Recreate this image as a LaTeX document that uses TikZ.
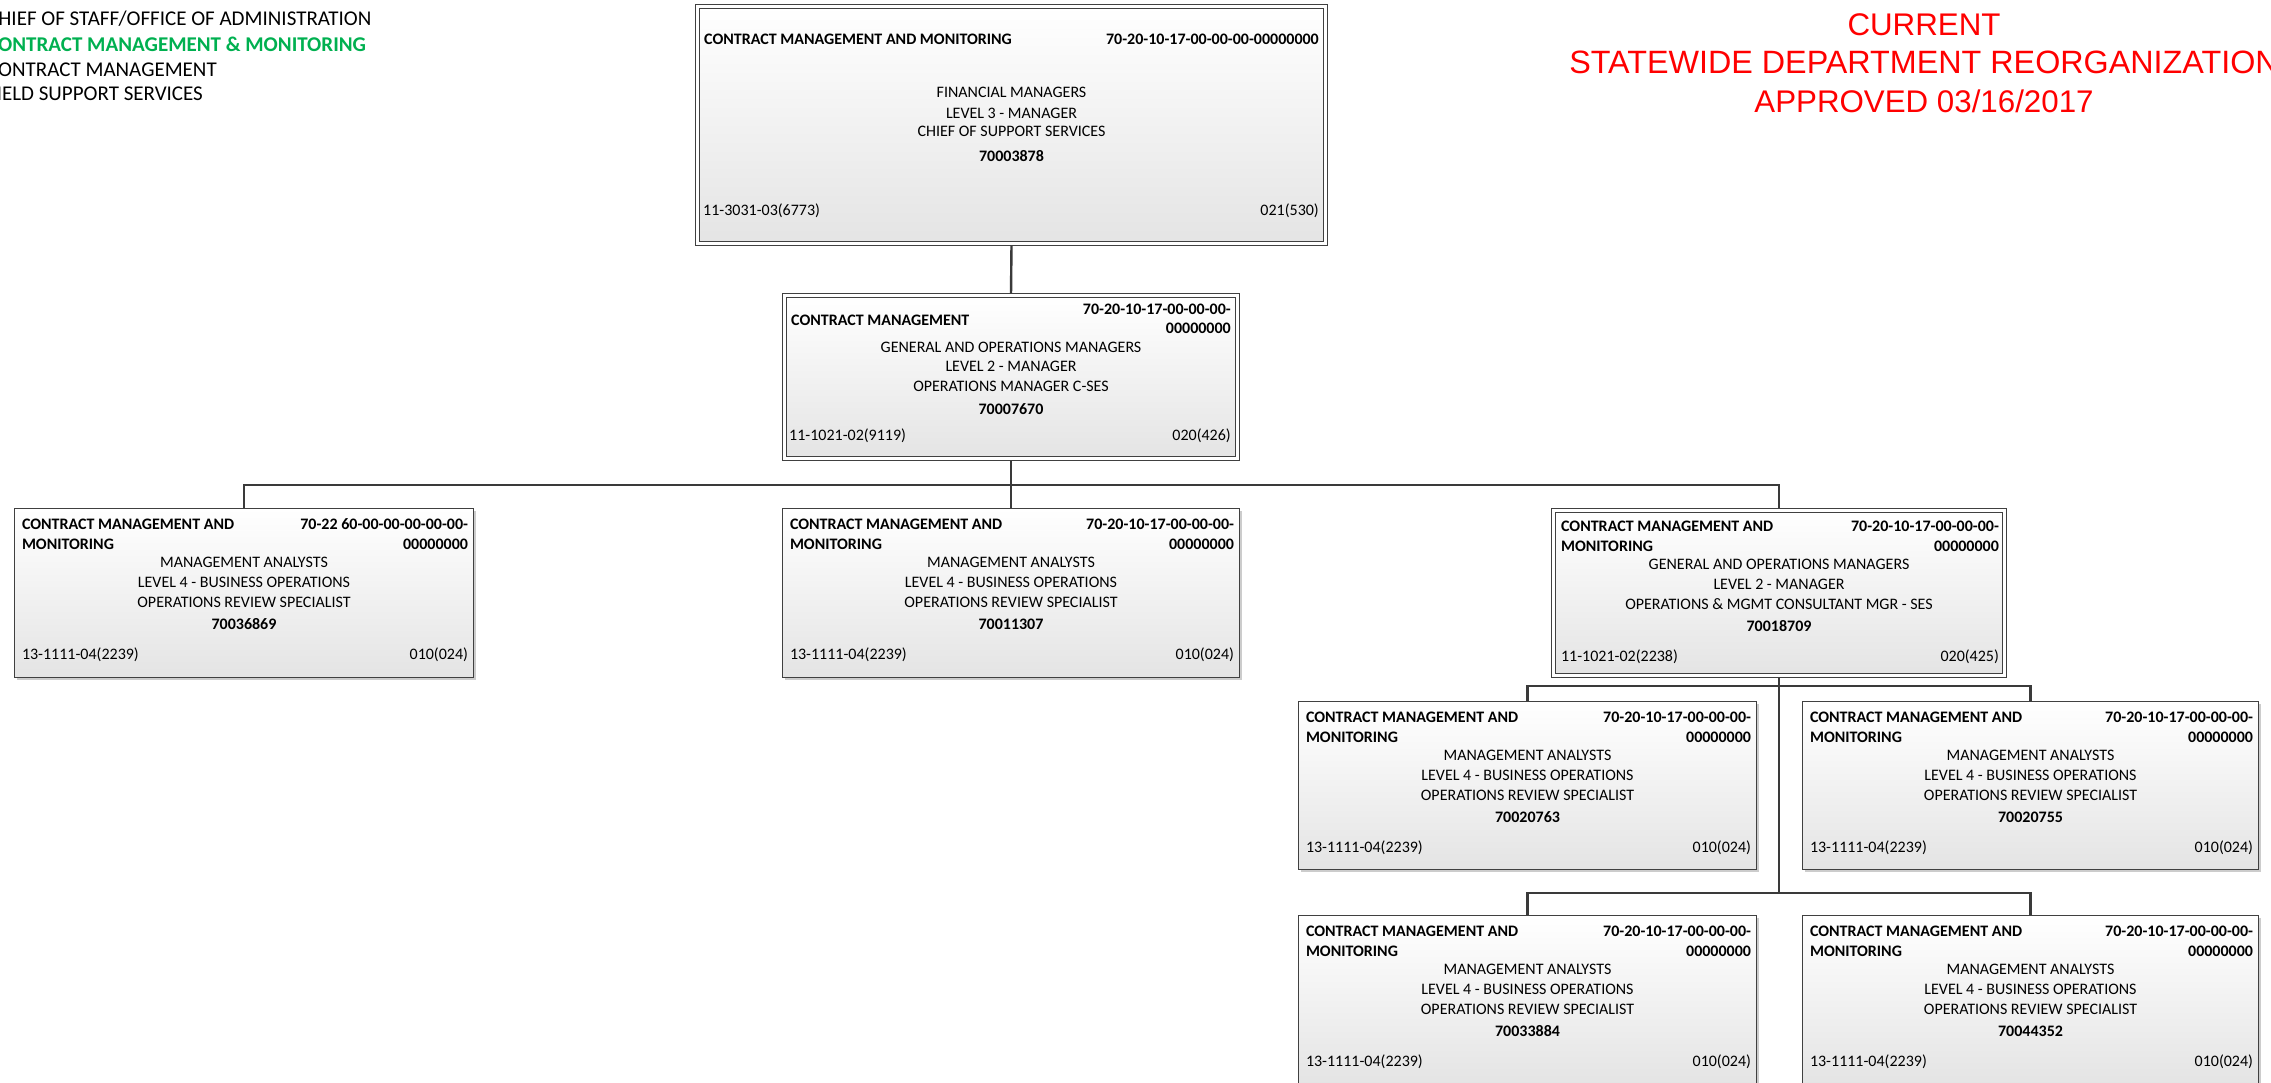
\documentclass[tikz,border=0pt]{standalone}
\usepackage{fontspec}
\setmainfont{Carlito}
\newfontfamily\arialfont{Liberation Sans}
\usetikzlibrary{shadows,calc}
\definecolor{bordergray}{HTML}{404040}
\definecolor{linegray}{HTML}{3A3A3A}
\definecolor{legendgreen}{HTML}{00B050}
\definecolor{titlered}{HTML}{FF0000}
\definecolor{fillbottom}{HTML}{E4E4E4}
\pgfdeclarelayer{bg}
\pgfsetlayers{bg,main}
\tikzset{
  boxshadow/.style={drop shadow={shadow xshift=2.5pt, shadow yshift=-2.5pt, fill=black, opacity=0.2}},
  orgsingle/.style={draw=bordergray, line width=1.4pt, top color=white, bottom color=fillbottom, inner sep=0pt, boxshadow},
  orgdouble/.style={draw=bordergray, line width=1.2pt, double=white, double distance=2.6pt, top color=white, bottom color=fillbottom, inner sep=0pt, boxshadow},
  conn/.style={draw=linegray, line width=2.4pt},
  hdr/.style={font=\fontsize{16}{19}\selectfont\bfseries, inner sep=0pt},
  body/.style={font=\fontsize{16}{19}\selectfont, inner sep=0pt},
  legendtxt/.style={font=\fontsize{21}{25}\selectfont, inner sep=0pt, anchor=base west},
  redtitle/.style={font=\arialfont\fontsize{31.3}{38}\selectfont, text=titlered, inner sep=0pt, anchor=base},
}
% #1 name, #2 right line 1, #3-#5 centre lines, #6 id, #7 footer left, #8 footer right
\newcommand{\StdBox}[8]{%
  \node[hdr, anchor=base west] (#1-h1) at ([shift={(8,22)}]#1.north west) {CONTRACT MANAGEMENT AND};
  \node[hdr, anchor=base west] (#1-h2) at ([shift={(8,42)}]#1.north west) {MONITORING};
  \node[hdr, anchor=base east] (#1-r1) at ([shift={(-6,22)}]#1.north east) {#2};
  \node[hdr, anchor=base east] (#1-r2) at ([shift={(-6,42)}]#1.north east) {00000000};
  \node[body, anchor=base] (#1-c1) at ([shift={(0,60)}]#1.north) {#3};
  \node[body, anchor=base] (#1-c2) at ([shift={(0,80)}]#1.north) {#4};
  \node[body, anchor=base] (#1-c3) at ([shift={(0,100)}]#1.north) {#5};
  \node[hdr, anchor=base] (#1-id) at ([shift={(0,122)}]#1.north) {#6};
  \node[body, anchor=base west] (#1-fl) at ([shift={(8,152)}]#1.north west) {#7};
  \node[body, anchor=base east] (#1-fr) at ([shift={(-6,152)}]#1.north east) {#8};
}
\begin{document}
\begin{tikzpicture}[x=1pt, y=-1pt]
\useasboundingbox (0,0) rectangle (2271,1083);

% legend
\node[legendtxt] (lg1) at (-13,26) {CHIEF OF STAFF/OFFICE OF ADMINISTRATION};
\node[legendtxt, text=legendgreen, font=\fontsize{21}{25}\selectfont\bfseries] (lg2) at (-13,52) {CONTRACT MANAGEMENT \& MONITORING};
\node[legendtxt] (lg3) at (-13,77) {CONTRACT MANAGEMENT};
\node[legendtxt] (lg4) at (-13,101) {FIELD SUPPORT SERVICES};

% title
\node[redtitle] (t1) at (1924,35.7) {CURRENT};
\node[redtitle, font=\arialfont\fontsize{32.3}{38}\selectfont] (t2) at (1924,74) {STATEWIDE DEPARTMENT REORGANIZATION};
\node[redtitle] (t3) at (1924,112.7) {APPROVED 03/16/2017};

% boxes
\node[orgdouble, minimum width=628pt, minimum height=237pt] (T) at (1011.5,125) {};
\node[orgdouble, minimum width=453pt, minimum height=163pt] (M) at (1011,377) {};
\node[orgsingle, minimum width=459pt, minimum height=169pt] (A) at (244,593) {};
\node[orgsingle, minimum width=457pt, minimum height=169pt] (B) at (1011,593) {};
\node[orgdouble, minimum width=451pt, minimum height=165pt] (C) at (1779,593) {};
\node[orgsingle, minimum width=458pt, minimum height=168pt] (D) at (1527.5,785.5) {};
\node[orgsingle, minimum width=456pt, minimum height=168pt] (E) at (2030.5,785.5) {};
\node[orgsingle, minimum width=458pt, minimum height=169pt] (F) at (1527.5,1000) {};
\node[orgsingle, minimum width=456pt, minimum height=169pt] (G) at (2030.5,1000) {};

% top box text
\node[hdr, anchor=base west] (T-h) at (704,44.5) {CONTRACT MANAGEMENT AND MONITORING};
\node[hdr, anchor=base east] (T-r) at (1319,44.5) {70-20-10-17-00-00-00-00000000};
\node[body, anchor=base] (T-c1) at (1011.5,97.5) {FINANCIAL MANAGERS};
\node[body, anchor=base] (T-c2) at (1011.5,118.5) {LEVEL 3 - MANAGER};
\node[body, anchor=base] (T-c3) at (1011.5,136.5) {CHIEF OF SUPPORT SERVICES};
\node[hdr, anchor=base] (T-id) at (1011.5,161.5) {70003878};
\node[body, anchor=base west] (T-fl) at (703,215.5) {11-3031-03(6773)};
\node[body, anchor=base east] (T-fr) at (1319,215.5) {021(530)};

% second box text
\node[hdr, anchor=base west] (M-h) at (791,325.5) {CONTRACT MANAGEMENT};
\node[hdr, anchor=base east] (M-r1) at (1231,314.5) {70-20-10-17-00-00-00-};
\node[hdr, anchor=base east] (M-r2) at (1231,333.5) {00000000};
\node[body, anchor=base] (M-c1) at (1011,352.5) {GENERAL AND OPERATIONS MANAGERS};
\node[body, anchor=base] (M-c2) at (1011,371.5) {LEVEL 2 - MANAGER};
\node[body, anchor=base] (M-c3) at (1011,391.5) {OPERATIONS MANAGER C-SES};
\node[hdr, anchor=base] (M-id) at (1011,414.5) {70007670};
\node[body, anchor=base west] (M-fl) at (789,440.5) {11-1021-02(9119)};
\node[body, anchor=base east] (M-fr) at (1231,440.5) {020(426)};

\StdBox{A}{70-22 60-00-00-00-00-00-}{MANAGEMENT ANALYSTS}{LEVEL 4 - BUSINESS OPERATIONS}{OPERATIONS REVIEW SPECIALIST}{70036869}{13-1111-04(2239)}{010(024)}
\StdBox{B}{70-20-10-17-00-00-00-}{MANAGEMENT ANALYSTS}{LEVEL 4 - BUSINESS OPERATIONS}{OPERATIONS REVIEW SPECIALIST}{70011307}{13-1111-04(2239)}{010(024)}
\StdBox{C}{70-20-10-17-00-00-00-}{GENERAL AND OPERATIONS MANAGERS}{LEVEL 2 - MANAGER}{OPERATIONS \& MGMT CONSULTANT MGR - SES}{70018709}{11-1021-02(2238)}{020(425)}
\StdBox{D}{70-20-10-17-00-00-00-}{MANAGEMENT ANALYSTS}{LEVEL 4 - BUSINESS OPERATIONS}{OPERATIONS REVIEW SPECIALIST}{70020763}{13-1111-04(2239)}{010(024)}
\StdBox{E}{70-20-10-17-00-00-00-}{MANAGEMENT ANALYSTS}{LEVEL 4 - BUSINESS OPERATIONS}{OPERATIONS REVIEW SPECIALIST}{70020755}{13-1111-04(2239)}{010(024)}
\StdBox{F}{70-20-10-17-00-00-00-}{MANAGEMENT ANALYSTS}{LEVEL 4 - BUSINESS OPERATIONS}{OPERATIONS REVIEW SPECIALIST}{70033884}{13-1111-04(2239)}{010(024)}
\StdBox{G}{70-20-10-17-00-00-00-}{MANAGEMENT ANALYSTS}{LEVEL 4 - BUSINESS OPERATIONS}{OPERATIONS REVIEW SPECIALIST}{70044352}{13-1111-04(2239)}{010(024)}

% connectors
\coordinate (bus1) at (1011,485);
\coordinate (bus2) at (1779,686);
\coordinate (bus3) at (1779,893);
\begin{pgfonlayer}{bg}
\draw[conn] (T.south) -- (M.north);
\draw[conn] (M.south) -- (bus1);
\draw[conn] (A.north) -- (A.north |- bus1) -- (C.north |- bus1) -- (C.north);
\draw[conn] (B.north) -- (B.north |- bus1);
\draw[conn] (C.south) -- (bus3);
\draw[conn] (D.north) -- (D.north |- bus2) -- (E.north |- bus2) -- (E.north);
\draw[conn] (F.north) -- (F.north |- bus3) -- (G.north |- bus3) -- (G.north);
\end{pgfonlayer}
\end{tikzpicture}
\end{document}
